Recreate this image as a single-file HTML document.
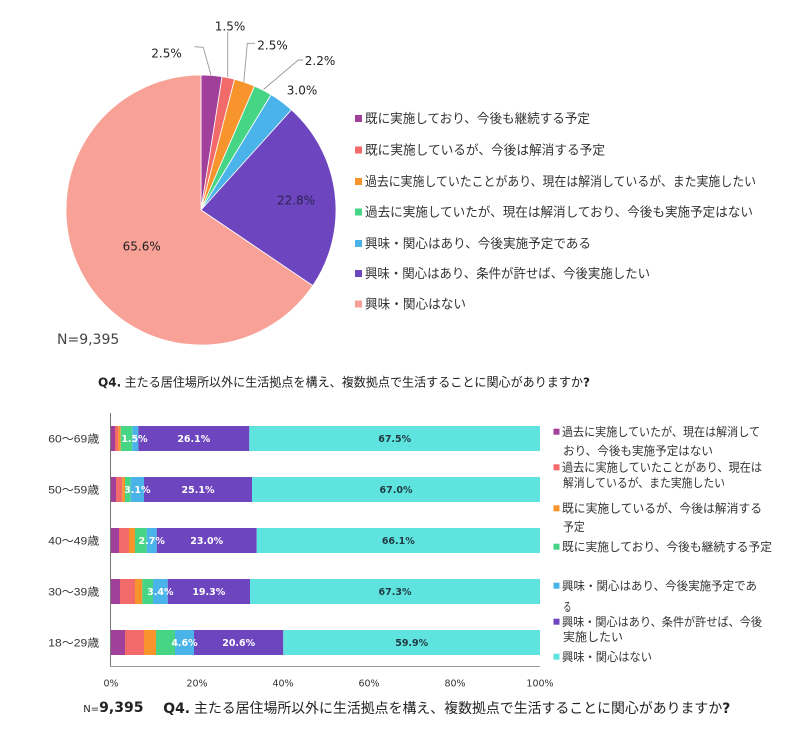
<!DOCTYPE html>
<html>
<head>
<meta charset="utf-8">
<style>
  html, body { margin: 0; padding: 0; background: #ffffff; }
  svg { display: block; }
  .jp { font-family: "Liberation Sans", "Noto Sans CJK JP", sans-serif; fill: #333; }
  .num { font-family: "DejaVu Sans", "Liberation Sans", sans-serif; fill: #222; }
  .bl { font-family: "DejaVu Sans", "Liberation Sans", sans-serif; font-weight: bold; font-size: 9.5px; text-anchor: middle; }
</style>
</head>
<body>
<svg width="800" height="735" viewBox="0 0 800 735" xmlns="http://www.w3.org/2000/svg">
  <rect width="800" height="735" fill="#ffffff"/>

  <!-- ===== PIE ===== -->
  <g stroke="#ffffff" stroke-width="0.8" stroke-linejoin="round">
    <path d="M201,210 L201,75 A135,135 0 0 1 222.09,76.66 Z" fill="#a0409a"/>
    <path d="M201,210 L222.09,76.66 A135,135 0 0 1 234.55,79.24 Z" fill="#f26a6a"/>
    <path d="M201,210 L234.55,79.24 A135,135 0 0 1 254.57,86.08 Z" fill="#f8942c"/>
    <path d="M201,210 L254.57,86.08 A135,135 0 0 1 271.12,94.64 Z" fill="#45d585"/>
    <path d="M201,210 L271.12,94.64 A135,135 0 0 1 291.46,109.79 Z" fill="#4ab3ea"/>
    <path d="M201,210 L291.46,109.79 A135,135 0 0 1 312.81,285.65 Z" fill="#6d45bf"/>
    <path d="M201,210 L312.81,285.65 A135,135 0 1 1 201,75 Z" fill="#f8a196"/>
  </g>

  <!-- leader lines -->
  <g fill="none" stroke="#999" stroke-width="0.9">
    <polyline points="194.3,46.7 203.3,47.3 211,75"/>
    <polyline points="227.7,31.7 227.7,77"/>
    <polyline points="255,43.3 247.3,43.3 243.8,82"/>
    <polyline points="303.3,60 298.3,60 263.5,89.5"/>
  </g>

  <!-- pie labels -->
  <g class="num" font-size="12" text-anchor="middle">
    <text x="166.5" y="57.5">2.5%</text>
    <text x="230" y="30.5">1.5%</text>
    <text x="272.5" y="49.5">2.5%</text>
    <text x="320" y="65">2.2%</text>
    <text x="302" y="94.5">3.0%</text>
    <text x="296" y="204.5" fill="#2a2350">22.8%</text>
    <text x="141.7" y="250.5">65.6%</text>
  </g>
  <text class="num" x="57" y="344" font-size="14" fill="#444" style="fill:#444">N=9,395</text>

  <!-- pie legend -->
  <g>
    <rect x="355" y="115" width="7" height="7" fill="#a0409a"/>
    <rect x="355" y="146.5" width="7" height="7" fill="#f26a6a"/>
    <rect x="355" y="178" width="7" height="7" fill="#f8942c"/>
    <rect x="355" y="208.5" width="7" height="7" fill="#45d585"/>
    <rect x="355" y="240" width="7" height="7" fill="#4ab3ea"/>
    <rect x="355" y="270" width="7" height="7" fill="#6d45bf"/>
    <rect x="355" y="300.5" width="7" height="7" fill="#f8a196"/>
  </g>
  <g class="jp" font-size="13">
    <text x="365" y="123" textLength="225" lengthAdjust="spacingAndGlyphs">既に実施しており、今後も継続する予定</text>
    <text x="365" y="154.5" textLength="240" lengthAdjust="spacingAndGlyphs">既に実施しているが、今後は解消する予定</text>
    <text x="365" y="186" textLength="391" lengthAdjust="spacingAndGlyphs">過去に実施していたことがあり、現在は解消しているが、また実施したい</text>
    <text x="365" y="216.5" textLength="388" lengthAdjust="spacingAndGlyphs">過去に実施していたが、現在は解消しており、今後も実施予定はない</text>
    <text x="365" y="248" textLength="226" lengthAdjust="spacingAndGlyphs">興味・関心はあり、今後実施予定である</text>
    <text x="365" y="278" textLength="285" lengthAdjust="spacingAndGlyphs">興味・関心はあり、条件が許せば、今後実施したい</text>
    <text x="365" y="308.5" textLength="101" lengthAdjust="spacingAndGlyphs">興味・関心はない</text>
  </g>

  <!-- top title -->
  <text class="jp" x="98" y="386.5" font-size="12.5" textLength="492" lengthAdjust="spacingAndGlyphs" style="fill:#222"><tspan font-weight="bold" font-family="DejaVu Sans, Liberation Sans, sans-serif">Q4.</tspan> 主たる居住場所以外に生活拠点を構え、複数拠点で生活することに関心がありますか<tspan font-weight="bold" font-family="DejaVu Sans, Liberation Sans, sans-serif">?</tspan></text>

  <!-- ===== BAR CHART ===== -->
  <!-- row 0: 60~69 -->
  <g>
    <rect x="111" y="426" width="4" height="25" fill="#a0409a"/>
    <rect x="115" y="426" width="3.3" height="25" fill="#f26a6a"/>
    <rect x="118.3" y="426" width="2.4" height="25" fill="#f8942c"/>
    <rect x="120.7" y="426" width="11.6" height="25" fill="#45d585"/>
    <rect x="132.3" y="426" width="6" height="25" fill="#4ab3ea"/>
    <rect x="138.3" y="426" width="111" height="25" fill="#6d45bf"/>
    <rect x="249.3" y="426" width="290.7" height="25" fill="#5fe3df"/>
  </g>
  <!-- row 1: 50~59 -->
  <g>
    <rect x="111" y="477" width="5" height="25" fill="#a0409a"/>
    <rect x="116" y="477" width="6.3" height="25" fill="#f26a6a"/>
    <rect x="122.3" y="477" width="2.7" height="25" fill="#f8942c"/>
    <rect x="125" y="477" width="5.7" height="25" fill="#45d585"/>
    <rect x="130.7" y="477" width="13.3" height="25" fill="#4ab3ea"/>
    <rect x="144" y="477" width="108" height="25" fill="#6d45bf"/>
    <rect x="252" y="477" width="288" height="25" fill="#5fe3df"/>
  </g>
  <!-- row 2: 40~49 -->
  <g>
    <rect x="111" y="528" width="8" height="25" fill="#a0409a"/>
    <rect x="119" y="528" width="10" height="25" fill="#f26a6a"/>
    <rect x="129" y="528" width="6" height="25" fill="#f8942c"/>
    <rect x="135" y="528" width="11.7" height="25" fill="#45d585"/>
    <rect x="146.7" y="528" width="10" height="25" fill="#4ab3ea"/>
    <rect x="156.7" y="528" width="100" height="25" fill="#6d45bf"/>
    <rect x="256.7" y="528" width="283.3" height="25" fill="#5fe3df"/>
  </g>
  <!-- row 3: 30~39 -->
  <g>
    <rect x="111" y="579" width="9" height="25" fill="#a0409a"/>
    <rect x="120" y="579" width="15" height="25" fill="#f26a6a"/>
    <rect x="135" y="579" width="7.3" height="25" fill="#f8942c"/>
    <rect x="142.3" y="579" width="10.7" height="25" fill="#45d585"/>
    <rect x="153" y="579" width="14.7" height="25" fill="#4ab3ea"/>
    <rect x="167.7" y="579" width="82.3" height="25" fill="#6d45bf"/>
    <rect x="250" y="579" width="290" height="25" fill="#5fe3df"/>
  </g>
  <!-- row 4: 18~29 -->
  <g>
    <rect x="111" y="630" width="14" height="25" fill="#a0409a"/>
    <rect x="125" y="630" width="19" height="25" fill="#f26a6a"/>
    <rect x="144" y="630" width="12" height="25" fill="#f8942c"/>
    <rect x="156" y="630" width="19" height="25" fill="#45d585"/>
    <rect x="175" y="630" width="19" height="25" fill="#4ab3ea"/>
    <rect x="194" y="630" width="89.3" height="25" fill="#6d45bf"/>
    <rect x="283.3" y="630" width="256.7" height="25" fill="#5fe3df"/>
  </g>

  <!-- bar labels -->
  <g class="bl" fill="#ffffff">
    <text x="134.5" y="442">1.5%</text>
    <text x="193.8" y="442">26.1%</text>
    <text x="137.3" y="493">3.1%</text>
    <text x="198" y="493">25.1%</text>
    <text x="151.7" y="544">2.7%</text>
    <text x="206.7" y="544">23.0%</text>
    <text x="160.3" y="595">3.4%</text>
    <text x="208.8" y="595">19.3%</text>
    <text x="184.5" y="646">4.6%</text>
    <text x="238.7" y="646">20.6%</text>
  </g>
  <g class="bl" fill="#1f3a40">
    <text x="394.7" y="442">67.5%</text>
    <text x="396" y="493">67.0%</text>
    <text x="398.3" y="544">66.1%</text>
    <text x="395" y="595">67.3%</text>
    <text x="411.7" y="646">59.9%</text>
  </g>

  <!-- axes -->
  <line x1="110.5" y1="413" x2="110.5" y2="667" stroke="#777" stroke-width="1"/>
  <line x1="110" y1="666.5" x2="540" y2="666.5" stroke="#999" stroke-width="1"/>

  <!-- x tick labels -->
  <g class="num" font-size="9.5" text-anchor="middle" style="fill:#333">
    <text x="111" y="686.5">0%</text>
    <text x="197" y="686.5">20%</text>
    <text x="283" y="686.5">40%</text>
    <text x="369" y="686.5">60%</text>
    <text x="455" y="686.5">80%</text>
    <text x="540" y="686.5">100%</text>
  </g>

  <!-- y labels -->
  <g class="jp" font-size="11" style="fill:#333">
    <text x="48.3" y="442.5" textLength="51" lengthAdjust="spacingAndGlyphs">60～69歳</text>
    <text x="48.3" y="493.5" textLength="51" lengthAdjust="spacingAndGlyphs">50～59歳</text>
    <text x="48.3" y="544.5" textLength="51" lengthAdjust="spacingAndGlyphs">40～49歳</text>
    <text x="48.3" y="595.5" textLength="51" lengthAdjust="spacingAndGlyphs">30～39歳</text>
    <text x="48.3" y="646.5" textLength="51" lengthAdjust="spacingAndGlyphs">18～29歳</text>
  </g>

  <!-- bar legend -->
  <g>
    <rect x="553.5" y="428.7" width="6" height="6" fill="#a0409a"/>
    <rect x="553.5" y="464.3" width="6" height="6" fill="#f26a6a"/>
    <rect x="553.5" y="505.3" width="6" height="6" fill="#f8942c"/>
    <rect x="553.5" y="543.7" width="6" height="6" fill="#45d585"/>
    <rect x="553.5" y="582.7" width="6" height="6" fill="#4ab3ea"/>
    <rect x="553.5" y="618.7" width="6" height="6" fill="#6d45bf"/>
    <rect x="553.5" y="653.7" width="6" height="6" fill="#5fe3df"/>
  </g>
  <g class="jp" font-size="12">
    <text x="562" y="436" textLength="198" lengthAdjust="spacingAndGlyphs">過去に実施していたが、現在は解消して</text>
    <text x="563" y="455" textLength="150" lengthAdjust="spacingAndGlyphs">おり、今後も実施予定はない</text>
    <text x="562" y="471.5" textLength="200" lengthAdjust="spacingAndGlyphs">過去に実施していたことがあり、現在は</text>
    <text x="563" y="487" textLength="162" lengthAdjust="spacingAndGlyphs">解消しているが、また実施したい</text>
    <text x="562" y="512.5" textLength="200" lengthAdjust="spacingAndGlyphs">既に実施しているが、今後は解消する</text>
    <text x="563" y="531" textLength="21.7" lengthAdjust="spacingAndGlyphs">予定</text>
    <text x="562" y="551" textLength="210" lengthAdjust="spacingAndGlyphs">既に実施しており、今後も継続する予定</text>
    <text x="562" y="590" textLength="195" lengthAdjust="spacingAndGlyphs">興味・関心はあり、今後実施予定であ</text>
    <text x="563" y="611" textLength="8.5" lengthAdjust="spacingAndGlyphs">る</text>
    <text x="562" y="626" textLength="200" lengthAdjust="spacingAndGlyphs">興味・関心はあり、条件が許せば、今後</text>
    <text x="563" y="641" textLength="60" lengthAdjust="spacingAndGlyphs">実施したい</text>
    <text x="562" y="661" textLength="90" lengthAdjust="spacingAndGlyphs">興味・関心はない</text>
  </g>

  <!-- bottom caption -->
  <text x="83.3" y="712" style="fill:#222"><tspan font-family="DejaVu Sans, Liberation Sans, sans-serif" font-size="10">N=</tspan><tspan font-family="DejaVu Sans, Liberation Sans, sans-serif" font-size="14" font-weight="bold">9,395</tspan></text>
  <text class="jp" x="163.3" y="713" font-size="14" textLength="567" lengthAdjust="spacingAndGlyphs" style="fill:#222"><tspan font-weight="bold" font-family="DejaVu Sans, Liberation Sans, sans-serif">Q4.</tspan> 主たる居住場所以外に生活拠点を構え、複数拠点で生活することに関心がありますか<tspan font-weight="bold" font-family="DejaVu Sans, Liberation Sans, sans-serif">?</tspan></text>
</svg>
</body>
</html>
